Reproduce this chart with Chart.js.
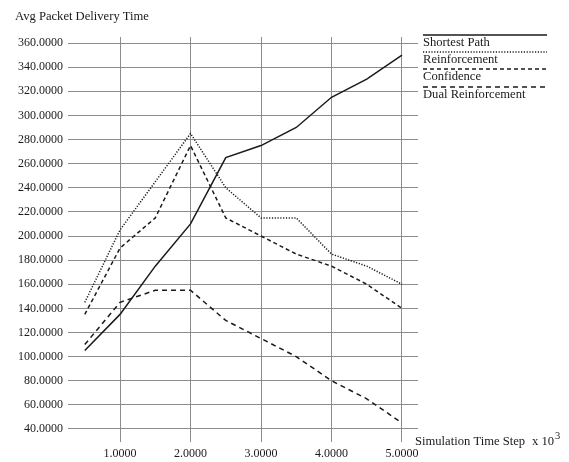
<!DOCTYPE html>
<html>
<head>
<meta charset="utf-8">
<script src="https://cdn.jsdelivr.net/npm/chart.js@4"></script>
<style>
  html, body { margin: 0; padding: 0; background: #fff; }
  #wrap { width: 569px; height: 462px; position: relative; }
</style>
</head>
<body>
<div id="wrap"><canvas id="chart" width="569" height="462"></canvas></div>
<script>
/* ---------- data ---------- */
const timeSteps      = [0.5, 1.0, 1.5, 2.0, 2.5, 3.0, 3.5, 4.0, 4.5, 5.0];   // x 10^3
const shortestPath   = [105, 135, 175, 210, 265, 275, 290, 315, 330, 350];
const reinforcement  = [145, 205, 245, 285, 240, 215, 215, 185, 175, 160];
const confidence     = [135, 190, 215, 275, 215, 200, 185, 175, 160, 140];
const dualReinforce  = [110, 145, 155, 155, 130, 115, 100,  80,  65,  45];
const seriesNames    = ["Shortest Path", "Reinforcement", "Confidence", "Dual Reinforcement"];

const FONT = "'Liberation Serif', 'DejaVu Serif', serif";
const INK  = "#1a1a1a";

const pts = vals => vals.map((v, i) => ({ x: timeSteps[i], y: v }));
const line = (label, vals, dash) => ({
  label, data: pts(vals),
  borderColor: INK, borderWidth: 1.5, borderDash: dash,
  pointRadius: 0, tension: 0, fill: false
});

/* ---------- extra text + legend drawn on the canvas ---------- */
const decorPlugin = {
  id: "decor",
  afterDraw(chart) {
    const { ctx } = chart;
    ctx.save();
    ctx.fillStyle = INK;
    ctx.font = `12.6px ${FONT}`;
    ctx.textBaseline = "middle";
    ctx.textAlign = "left";
    ctx.fillText("Avg Packet Delivery Time", 15, 17);

    // x axis title, right of the plot
    ctx.fillText("Simulation Time Step", 415, 442);
    ctx.fillText("x 10", 532, 442);
    const w = ctx.measureText("x 10").width;
    ctx.font = `10.5px ${FONT}`;
    ctx.fillText("3", 532 + w + 1, 436);

    // legend: sample line above each name
    ctx.font = `12.6px ${FONT}`;
    const ys = [35, 52, 69, 87];
    chart.data.datasets.forEach((ds, i) => {
      ctx.strokeStyle = INK;
      ctx.lineWidth = 1.5;
      ctx.setLineDash(ds.borderDash || []);
      ctx.beginPath(); ctx.moveTo(423, ys[i]); ctx.lineTo(547, ys[i]); ctx.stroke();
      ctx.setLineDash([]);
      ctx.fillText(ds.label, 423, ys[i] + 8);
    });
    ctx.restore();
  }
};

new Chart(document.getElementById("chart"), {
  type: "line",
  data: {
    datasets: [
      line(seriesNames[0], shortestPath, []),
      line(seriesNames[1], reinforcement, [1.2, 1.6]),
      line(seriesNames[2], confidence, [4, 3]),
      line(seriesNames[3], dualReinforce, [5, 4])
    ]
  },
  options: {
    responsive: false,
    animation: false,
    devicePixelRatio: 1,
    layout: { padding: { top: 37, right: 151, left: 0, bottom: 0 } },
    plugins: { legend: { display: false }, tooltip: { enabled: false } },
    scales: {
      x: {
        type: "linear", min: 0.262, max: 5.227,
        border: { display: false },
        grid: { color: "#8c8c8c", lineWidth: 1, drawTicks: false },
        ticks: {
          stepSize: 1, includeBounds: false, padding: 5,
          color: INK, font: { family: FONT, size: 12 },
          maxRotation: 0,
          callback: v => v.toFixed(4)
        },
        afterFit: s => { s.height = 20; }
      },
      y: {
        min: 29.2, max: 365,
        border: { display: false },
        grid: { color: "#8c8c8c", lineWidth: 1, drawTicks: false },
        ticks: {
          stepSize: 20, includeBounds: false, padding: 5,
          color: INK, font: { family: FONT, size: 12 },
          callback: v => v.toFixed(4)
        },
        afterFit: s => { s.width = 68; }
      }
    }
  },
  plugins: [decorPlugin]
});
</script>
</body>
</html>
